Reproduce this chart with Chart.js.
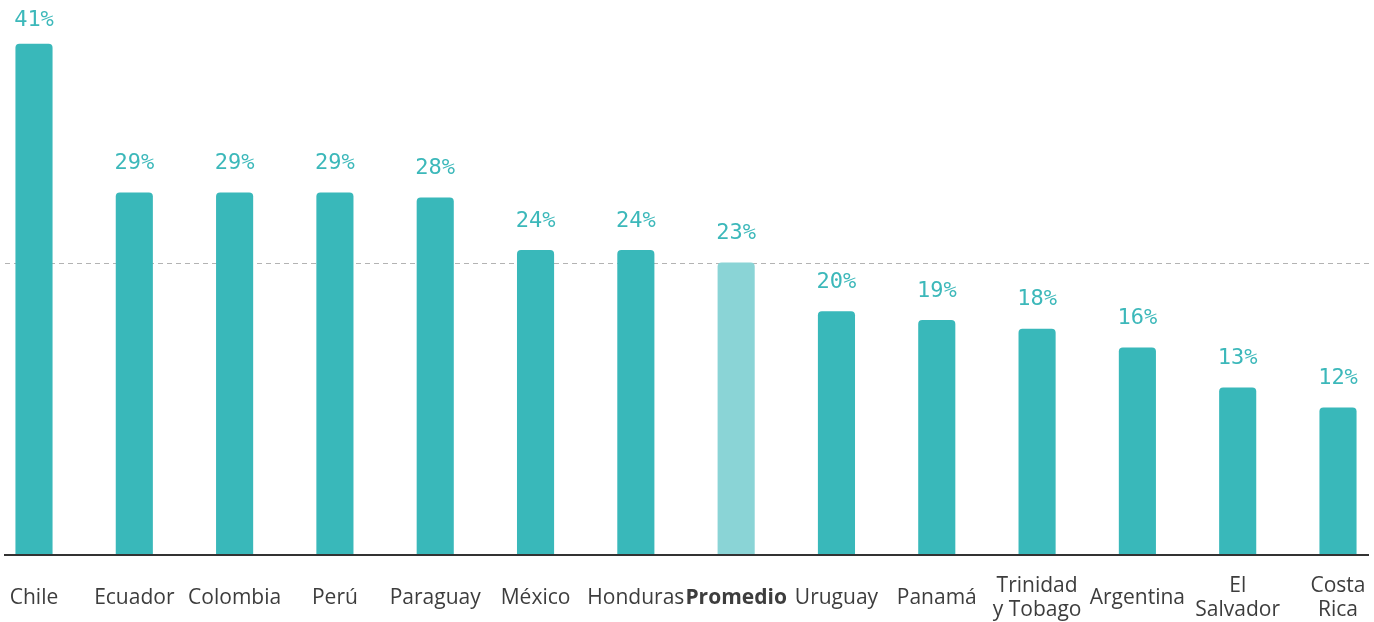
<!DOCTYPE html>
<html>
<head>
<meta charset="utf-8">
<script src="https://cdn.jsdelivr.net/npm/chart.js@4"></script>
<style>
  html, body { margin: 0; padding: 0; background: #fff; }
  #wrap { width: 1374px; height: 622px; }
</style>
</head>
<body>
<div id="wrap"><canvas id="chart"></canvas></div>
<script>
// categories (multi-line ones as arrays)
const paises = ['Chile', 'Ecuador', 'Colombia', 'Perú', 'Paraguay', 'México', 'Honduras', 'Promedio',
  'Uruguay', 'Panamá', ['Trinidad', 'y Tobago'], 'Argentina', ['El', 'Salvador'], ['Costa', 'Rica']];
// bar heights
const valores = [40.9, 29.0, 29.0, 29.0, 28.6, 24.4, 24.4, 23.4, 19.5, 18.8, 18.1, 16.6, 13.4, 11.8];
// printed labels above bars
const etiquetas = ['41%', '29%', '29%', '29%', '28%', '24%', '24%', '23%', '20%', '19%', '18%', '16%', '13%', '12%'];
const idxPromedio = 7;

const teal = '#39b8ba';
const tealLight = '#8ad4d6';

// dashed average line + baseline, drawn a bit wider than the plot area
const lineas = {
  id: 'lineas',
  beforeDatasetsDraw(chart) {
    const { ctx } = chart;
    const y = chart.scales.y.getPixelForValue(valores[idxPromedio]);
    ctx.save();
    ctx.strokeStyle = '#b3b3b3';
    ctx.lineWidth = 1;
    ctx.setLineDash([5, 4]);
    ctx.beginPath();
    ctx.moveTo(5, Math.round(y) + 0.5);
    ctx.lineTo(1369, Math.round(y) + 0.5);
    ctx.stroke();
    ctx.restore();
  },
  afterDatasetsDraw(chart) {
    const { ctx } = chart;
    const y = chart.scales.y.getPixelForValue(0);
    ctx.save();
    ctx.strokeStyle = '#333333';
    ctx.lineWidth = 2;
    ctx.beginPath();
    ctx.moveTo(4, y);
    ctx.lineTo(1369, y);
    ctx.stroke();

    // value labels
    ctx.font = '22px "DejaVu Sans Mono"';
    ctx.fillStyle = '#3cb8ba';
    ctx.textAlign = 'center';
    ctx.textBaseline = 'middle';
    chart.getDatasetMeta(0).data.forEach((bar, i) => {
      ctx.fillText(etiquetas[i], bar.x, Math.max(bar.y - 29, 20));
    });
    ctx.restore();
  }
};

new Chart(document.getElementById('chart'), {
  type: 'bar',
  data: {
    labels: paises,
    datasets: [{
      data: valores,
      backgroundColor: valores.map((v, i) => i === idxPromedio ? tealLight : teal),
      borderRadius: 4,
      borderSkipped: 'start',
      barPercentage: 0.37,
      categoryPercentage: 1,
      clip: false
    }]
  },
  options: {
    responsive: true,
    maintainAspectRatio: false,
    animation: false,
    layout: { padding: { left: 34, right: 36, top: 0, bottom: 0 } },
    plugins: { legend: { display: false }, tooltip: { enabled: false } },
    scales: {
      x: {
        offset: false,
        grid: { display: false, drawTicks: false },
        border: { display: false },
        afterFit: (scale) => {
          scale.height = 67;
          scale.paddingLeft = 0;
          scale.paddingRight = 0;
        },
        ticks: {
          padding: 31,
          crossAlign: 'center',
          maxRotation: 0,
          autoSkip: false,
          color: '#3d3d3d',
          font: (c) => ({
            family: '"Open Sans"',
            size: 21,
            lineHeight: '24px',
            weight: c.index === idxPromedio ? 'bold' : 'normal'
          })
        }
      },
      y: {
        display: false,
        min: 0,
        max: 44.4
      }
    }
  },
  plugins: [lineas]
});
</script>
</body>
</html>
